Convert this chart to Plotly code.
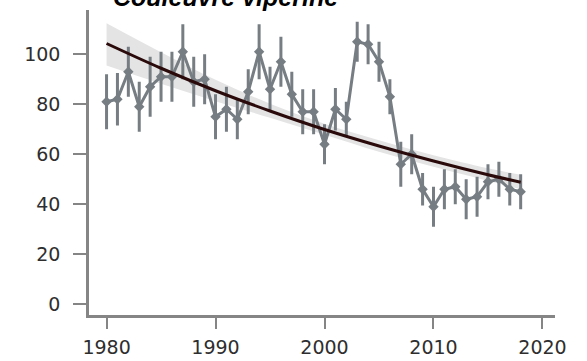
import plotly.graph_objects as go

# --- data ---
years = list(range(1980, 2019))
values = [81, 82, 93, 79, 87, 91, 91, 101, 89, 90,
          75, 78, 74, 85, 101, 86, 97, 84, 77, 77,
          64, 78, 74, 105, 104, 97, 83, 56, 60, 46,
          39, 46, 47, 42, 43, 49, 50, 46, 45]
errors = [11, 10.5, 10, 10, 12, 10, 10, 11, 10, 10,
          9, 9, 8, 9, 11, 9, 10, 9, 9, 9,
          8, 8.5, 7, 8, 8, 8, 7, 9, 8, 6.5,
          8, 8, 7, 8, 8, 7, 7, 6.5, 7]

trend_years = [1980, 1985, 1990, 1995, 2000, 2005, 2010, 2015, 2018]
trend_values = [104.3, 94.4, 85.4, 77.3, 69.9, 63.3, 57.3, 51.8, 48.8]
band_upper = [112.4, 100.8, 89.8, 80.2, 72.2, 65.6, 59.6, 54.4, 51.8]
band_lower = [95.5, 88.2, 81.2, 74.6, 67.8, 61.0, 55.0, 49.4, 46.0]

x_ticks = [1980, 1990, 2000, 2010, 2020]
y_ticks = [0, 20, 40, 60, 80, 100]
title_text = "Couleuvre vipérine"

GRAY = "#767d83"
AXIS = "#858585"

fig = go.Figure()

# confidence band
fig.add_trace(go.Scatter(x=trend_years, y=band_lower, mode="lines",
                         line=dict(width=0, shape="spline"), hoverinfo="skip",
                         showlegend=False))
fig.add_trace(go.Scatter(x=trend_years, y=band_upper, mode="lines",
                         line=dict(width=0, shape="spline"), fill="tonexty",
                         fillcolor="#e4e4e4", hoverinfo="skip", showlegend=False))

# observed series with error bars
fig.add_trace(go.Scatter(
    x=years, y=values, mode="lines+markers",
    line=dict(color=GRAY, width=3),
    marker=dict(symbol="diamond", size=8, color=GRAY),
    error_y=dict(type="data", array=errors, visible=True,
                 color=GRAY, thickness=3, width=0),
    showlegend=False))

# trend line
fig.add_trace(go.Scatter(x=trend_years, y=trend_values, mode="lines",
                         line=dict(color="#2a0a0a", width=3, shape="spline"),
                         showlegend=False))

fig.update_layout(
    width=587, height=361,
    margin=dict(l=89, r=32, t=10, b=46),
    plot_bgcolor="white", paper_bgcolor="white",
    font=dict(family="DejaVu Sans", size=19, color="#2e2e2e"),
    xaxis=dict(range=[1978.39, 2021.15], tickvals=x_ticks,
               showgrid=False, zeroline=False, automargin=False,
               showline=True, linecolor=AXIS, linewidth=2.5,
               ticks="outside", ticklen=11, tickwidth=2, tickcolor=AXIS,
               ticklabelstandoff=2),
    yaxis=dict(range=[-4.3, 117.7], tickvals=y_ticks,
               showgrid=False, zeroline=False, automargin=False,
               showline=True, linecolor=AXIS, linewidth=2.5,
               ticks="outside", ticklen=13, tickwidth=2, tickcolor=AXIS,
               ticklabelstandoff=9),
    annotations=[dict(text="<b><i>" + title_text + "</i></b>",
                      xref="paper", yref="paper", x=0.292, y=0.990,
                      xanchor="center", yanchor="bottom", showarrow=False,
                      font=dict(family="Liberation Sans", size=25, color="black"))],
)

fig.write_html("out.html")
